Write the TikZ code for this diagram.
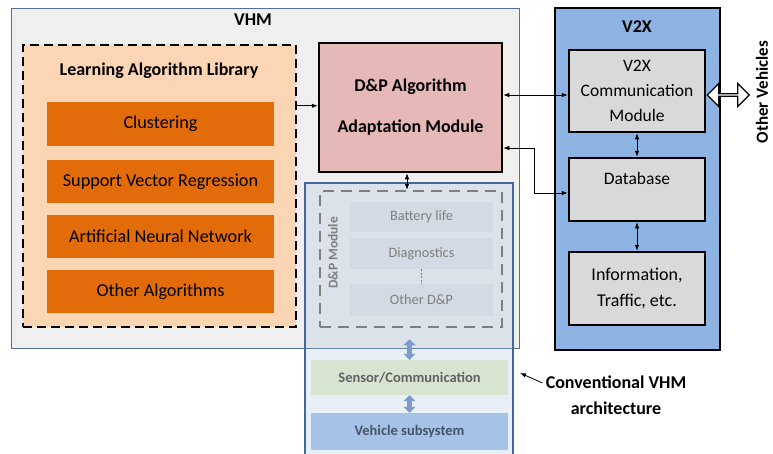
\documentclass[tikz,border=0pt]{standalone}
\usepackage{fontspec}
\setmainfont{Carlito}
\usetikzlibrary{arrows.meta,shapes.arrows}
\definecolor{vhmgray}{HTML}{EFEFEF}
\definecolor{vhmline}{HTML}{52709E}
\definecolor{peach}{HTML}{FCD5B5}
\definecolor{orng}{HTML}{E36C0A}
\definecolor{pink}{HTML}{E6B9B8}
\definecolor{convfill}{HTML}{A7BFDF}
\definecolor{convline}{HTML}{41679B}
\definecolor{dpgray}{HTML}{7F7F7F}
\definecolor{dpbox}{HTML}{D3DAE4}
\definecolor{sensor}{HTML}{D7E4D0}
\definecolor{vehicle}{HTML}{A6C2E6}
\definecolor{vtext}{HTML}{44546A}
\definecolor{v2xblue}{HTML}{8DB3E2}
\definecolor{lgray}{HTML}{D9D9D9}
\definecolor{fatarrow}{HTML}{7F9CC8}
\tikzset{
  rbox/.style={inner sep=0pt, align=center},
  orbox/.style={rbox, fill=orng, minimum width=227pt, minimum height=43pt, font=\fontsize{18.2}{21}\selectfont},
  dpitem/.style={rbox, fill=dpbox, minimum width=143pt, text=dpgray, font=\fontsize{14.3}{16}\selectfont},
  graybox/.style={rbox, draw=black, line width=2.5pt, fill=lgray, minimum width=136pt, font=\fontsize{17.5}{25}\selectfont},
  conn/.style={draw=black, line width=0.8pt, {Latex[length=6pt,width=4.5pt]}-{Latex[length=6pt,width=4.5pt]}},
  fat/.style={draw=fatarrow, line width=4.5pt, {Triangle[length=6pt,width=12pt]}-{Triangle[length=6pt,width=12pt]}},
  lbl/.style={inner sep=0pt, align=center},
}
\begin{document}
\begin{tikzpicture}[x=1pt,y=-1pt]
\useasboundingbox (0,0) rectangle (773,453);
% VHM
\node[rbox, draw=vhmline, line width=1pt, fill=vhmgray, minimum width=508pt, minimum height=340pt] (vhm) at (265,178) {};
\node[lbl, font=\bfseries\fontsize{18}{20}\selectfont] (vhmlbl) at (253,20) {VHM};
% Learning library
\node[rbox, draw=black, fill=peach, line width=2.5pt, dash pattern=on 9pt off 5pt, minimum width=273pt, minimum height=282pt] (lib) at (159.5,186) {};
\node[lbl, font=\bfseries\fontsize{18}{20}\selectfont] (libl) at (159,71) {Learning Algorithm Library};
\node[orbox, minimum height=44pt] (clu) at (160.5,124) {Clustering};
\node[orbox] (svr) at (160.5,181.5) {Support Vector Regression};
\node[orbox] (ann) at (160.5,236.5) {Artificial Neural Network};
\node[orbox] (oth) at (160.5,291.5) {Other Algorithms};
% D&P Algorithm Adaptation Module
\node[rbox, draw=black, line width=2.5pt, fill=pink, minimum width=183pt, minimum height=129pt, font=\bfseries\fontsize{18}{41}\selectfont] (dpa) at (410.5,107.5) {D\&P Algorithm\\Adaptation Module};
% Conventional VHM box
\node[rbox, fill=convfill, fill opacity=0.25, draw=convline, draw opacity=1, line width=2pt, minimum width=208pt, minimum height=280pt] (conv) at (409,323) {};
% D&P module
\node[rbox, draw=dpgray, line width=2.5pt, dash pattern=on 11pt off 7pt, minimum width=182pt, minimum height=136pt] (dpm) at (411,259) {};
\node[lbl, rotate=90, text=dpgray, font=\bfseries\fontsize{13.5}{15}\selectfont] (dpml) at (333,253) {D\&P Module};
\node[dpitem, minimum height=30pt] (bat) at (421.5,217) {Battery life};
\node[dpitem, minimum height=31pt] (dia) at (421.5,253.5) {Diagnostics};
\node[dpitem, minimum height=32pt] (odp) at (421.5,300) {Other D\&P};
\draw[dpgray, line width=0.8pt, dash pattern=on 2pt off 1.5pt] (dia.south) -- (odp.north);
% Sensor & vehicle
\node[rbox, fill=sensor, minimum width=197pt, minimum height=35pt, text={black!62}, font=\bfseries\fontsize{14.5}{16}\selectfont] (sen) at (409.5,377.5) {Sensor/Communication};
\node[rbox, fill=vehicle, minimum width=197pt, minimum height=37pt, text=vtext, font=\bfseries\fontsize{14.5}{16}\selectfont] (veh) at (409.5,431.5) {Vehicle subsystem};
\draw[fat] ([yshift=-11pt]dpm.south -| sen.north) -- (sen.north);
\draw[fat] (sen.south) -- (veh.north);
% V2X
\node[rbox, draw=black, line width=2.5pt, fill=v2xblue, minimum width=165pt, minimum height=342pt] (v2x) at (637.5,179) {};
\node[lbl, font=\bfseries\fontsize{18}{20}\selectfont] (v2xl) at (637,27) {V2X};
\node[graybox, minimum height=82pt] (com) at (637,91) {V2X\\Communication\\Module};
\node[graybox, minimum height=63pt, text depth=22pt] (db) at (637,189.5) {Database};
\node[graybox, minimum height=73pt, font=\fontsize{18}{26}\selectfont] (inf) at (637,288.5) {Information,\\Traffic, etc.};
% connectors
\coordinate (la) at ([yshift=-62pt]lib.north east);
\draw[draw=black, line width=0.8pt, -{Latex[length=6pt,width=4.5pt]}] (la) -- (dpa.west |- la);
\draw[conn] ([yshift=12.5pt]dpa.east) -- ([yshift=-4pt]com.west);
\coordinate (da) at ([yshift=-40.5pt]dpa.east);
\draw[conn] (da) -- ++(31,0) |- ([yshift=-3.5pt]db.west);
\draw[conn] ([xshift=-3.5pt]dpa.south) -- ([xshift=-3.5pt]dpa.south |- dpm.north);
\draw[conn] (com.south) -- (db.north);
\draw[conn] (db.south) -- (inf.north);
% Other vehicles
\node[double arrow, draw=black, fill=white, line width=1.3pt, minimum width=23pt, double arrow head extend=5.5pt, minimum height=42pt, inner sep=0pt, anchor=west] (ov) at ([yshift=-4pt]com.east) {};
\node[lbl, rotate=90, font=\bfseries\fontsize{17}{20}\selectfont] (ovl) at (762,92) {Other Vehicles};
% Conventional label
\node[lbl, font=\bfseries\fontsize{18}{26}\selectfont] (cvl) at (616,395) {Conventional VHM\\architecture};
\coordinate (cvtip) at (520,373);
\draw[draw=black, line width=0.8pt, -{Latex[length=6pt,width=4.5pt]}] ([xshift=-3pt,yshift=12pt]cvl.west) -- (cvtip);
\end{tikzpicture}
\end{document}
